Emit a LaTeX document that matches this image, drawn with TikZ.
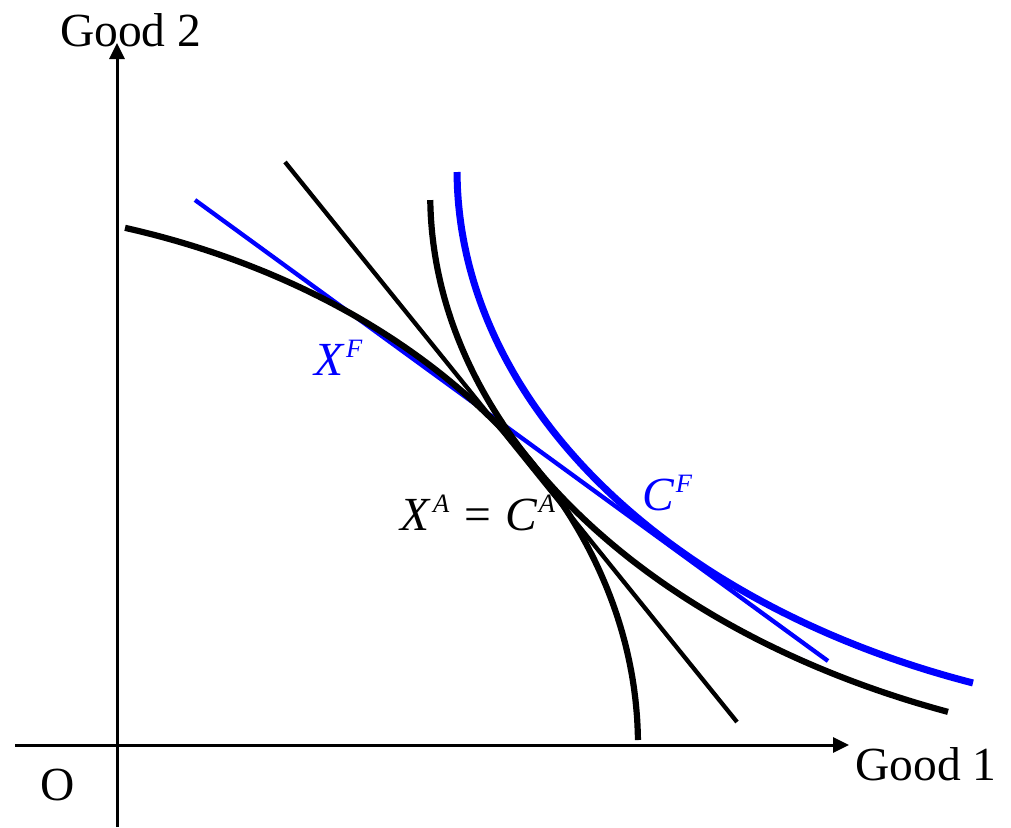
\documentclass[tikz,border=0pt]{standalone}
\usepackage{fontspec}
\setmainfont{Liberation Serif}
\usetikzlibrary{arrows.meta}
\newcommand\mysup[1]{\raisebox{17.5pt}{\fontsize{26.5}{27}\selectfont\itshape #1}}
\tikzset{
  axisline/.style={line width=3pt, -{Triangle[length=16pt,width=15pt]}},
  thickcurve/.style={line width=6.2pt},
  blueic/.style={line width=7pt, blue},
  priceline/.style={line width=4.3pt},
  bluepriceline/.style={line width=4.3pt, blue},
  lbl/.style={inner sep=0pt, anchor=base west, font=\fontsize{47.5}{52}\selectfont},
}
\begin{document}
\begin{tikzpicture}[x=1pt, y=-1pt]
\useasboundingbox (0,0) rectangle (1011,827);
% coordinates
\coordinate (ystart) at (117,827);
\coordinate (yend) at (117,43);
\coordinate (xstart) at (15,745);
\coordinate (xend) at (849,745);
\coordinate (ta) at (285,162);
\coordinate (tb) at (737,722);
\coordinate (fa) at (195,200);
\coordinate (fb) at (828,661);
% blue price line
\draw[bluepriceline] (fa) -- (fb);
% blue indifference curve (trade)
\draw[blueic] plot[domain=0.21:69.55, samples=120, variable=\s] ({1250-793*cos(\s)},{170+547.5*sin(\s)});
% black price line (autarky)
\draw[priceline] (ta) -- (tb);
% production possibility frontier
\draw[thickcurve] plot[domain=73.29:0.53, samples=120, variable=\t] ({-82+720*cos(\t)},{745-540*sin(\t)});
% autarky indifference curve
\draw[thickcurve] plot[domain=0.52:68.38, samples=120, variable=\s] ({1250-819.8*cos(\s)},{195+556*sin(\s)});
% axes
\draw[axisline] (ystart) -- (yend);
\draw[axisline] (xstart) -- (xend);
% labels
\node[lbl] (good2) at (60,46) {Good 2};
\node[lbl] (good1) at (855,780) {Good 1};
\node[lbl] (orig) at (40,800) {O};
\node[lbl] (xa) at (400,530) {\itshape X\kern4pt\mysup{A}\hspace{15pt}\upshape=\hspace{14pt}\itshape C\kern2pt\mysup{A}};
\node[lbl, blue] (xf) at (314,375) {\itshape X\kern3pt\mysup{F}};
\node[lbl, blue] (cf) at (642,510) {\itshape C\kern2pt\mysup{F}};
\end{tikzpicture}
\end{document}
